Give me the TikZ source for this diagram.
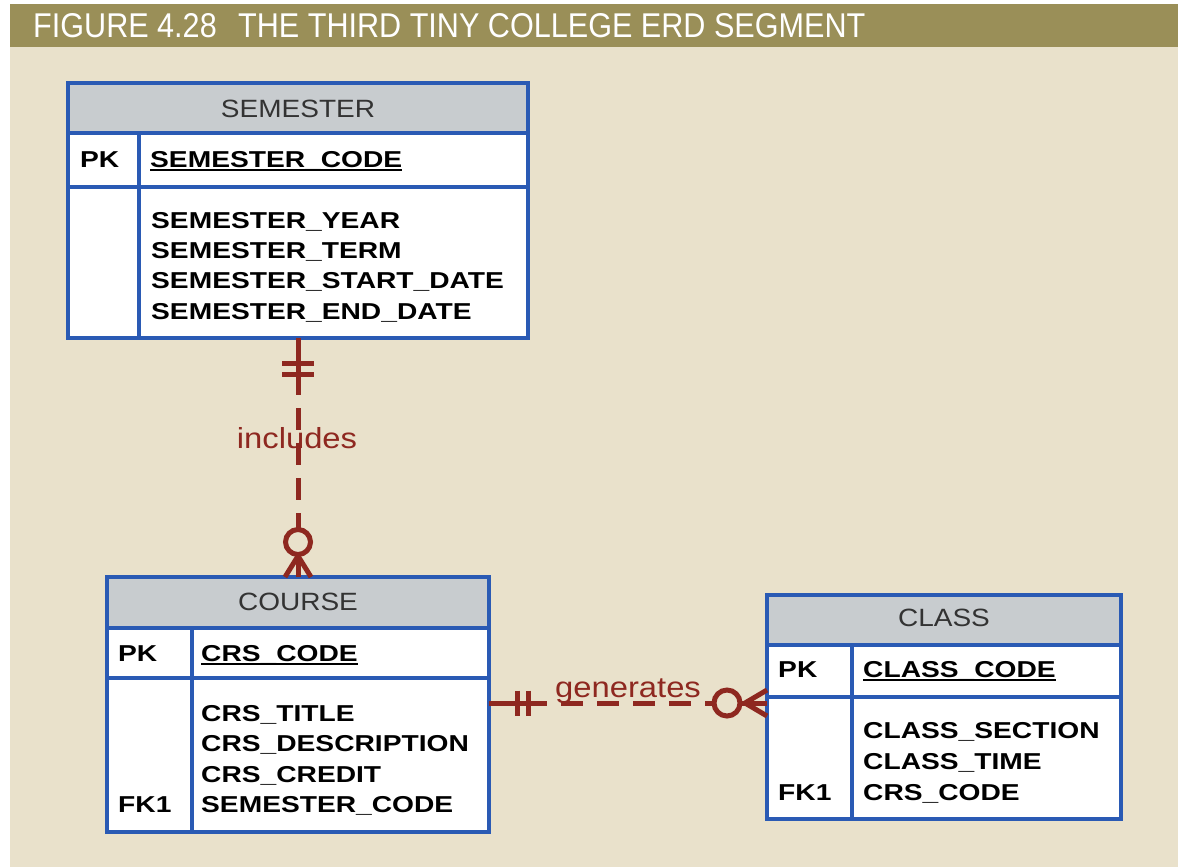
\documentclass[tikz,border=0pt]{standalone}
\usepackage{fontspec}
\setmainfont{Liberation Sans}
\usetikzlibrary{calc}
\definecolor{barcol}{HTML}{9A8F58}
\definecolor{bgcol}{HTML}{E9E1CB}
\definecolor{hdrcol}{HTML}{C8CCCF}
\definecolor{ebl}{HTML}{2A5AB4}
\definecolor{relcol}{HTML}{8E2820}
\definecolor{htxt}{HTML}{333333}
\newcommand{\attr}[1]{\scalebox{1.225}[1]{\fontsize{23}{23}\selectfont\bfseries #1}}
\newcommand{\hdrtxt}[1]{\scalebox{1.12}[1]{\fontsize{25}{25}\selectfont #1}}
\newcommand{\reltxt}[1]{\scalebox{1.13}[1]{\fontsize{29}{29}\selectfont #1}}
\begin{document}
\begin{tikzpicture}[x=1pt,y=-1pt,
  entitybox/.style={draw=none,fill=white,inner sep=0pt,outer sep=0pt,anchor=north west},
  eline/.style={draw=ebl,line width=3.5pt},
  att/.style={anchor=base west,inner sep=0pt,text=black},
  hdr/.style={anchor=base,inner sep=0pt,text=htxt},
  conn/.style={draw=relcol,line width=5pt},
  dashconn/.style={conn,dash pattern=on 22pt off 13pt},
  rlabel/.style={anchor=base,inner sep=0pt,text=relcol},
  uline/.style={draw=black,line width=2pt}]
\useasboundingbox (0,0) rectangle (1182,867);
\fill[white] (0,0) rectangle (1182,867);
\fill[bgcol] (10,47) rectangle (1178,867);
\fill[barcol] (10,4) rectangle (1178,47);
\node[anchor=base west,inner sep=0pt,text=white] (title) at (33,38)
  {\resizebox{832pt}{24pt}{FIGURE 4.28\hspace{0.7em}THE THIRD TINY COLLEGE ERD SEGMENT}};

% ---------- SEMESTER ----------
\node[entitybox,minimum width=460pt,minimum height=255pt] (semester) at (68,83) {};
\fill[hdrcol] (semester.north west) rectangle ($(semester.north east)+(0,50)$);
\draw[eline] ($(semester.north west)+(0,50)$) -- ($(semester.north east)+(0,50)$);
\draw[eline] ($(semester.north west)+(0,104)$) -- ($(semester.north east)+(0,104)$);
\draw[eline] ($(semester.north west)+(71,50)$) -- ($(semester.south west)+(71,0)$);
\draw[eline] (semester.north west) rectangle (semester.south east);
\node[hdr] (semhdr) at (298,117) {\hdrtxt{SEMESTER}};
\node[att] (sempk) at (80,167) {\attr{PK}};
\node[att] (semcode) at (150,167) {\attr{SEMESTER\_CODE}};
\draw[uline] ($(semcode.base west)+(0,2.5)$) -- ($(semcode.base east)+(0,2.5)$);
\node[att] (semyear) at (151,228.5) {\attr{SEMESTER\_YEAR}};
\node[att] (semterm) at (151,258.7) {\attr{SEMESTER\_TERM}};
\node[att] (semstart) at (151,288.9) {\attr{SEMESTER\_START\_DATE}};
\node[att] (semend) at (151,319) {\attr{SEMESTER\_END\_DATE}};

% ---------- COURSE ----------
\node[entitybox,minimum width=382pt,minimum height=255pt] (course) at (107,577) {};
\fill[hdrcol] (course.north west) rectangle ($(course.north east)+(0,51)$);
\draw[eline] ($(course.north west)+(0,51)$) -- ($(course.north east)+(0,51)$);
\draw[eline] ($(course.north west)+(0,101)$) -- ($(course.north east)+(0,101)$);
\draw[eline] ($(course.north west)+(85,51)$) -- ($(course.south west)+(85,0)$);
\draw[eline] (course.north west) rectangle (course.south east);
\node[hdr] (crshdr) at (298,610) {\hdrtxt{COURSE}};
\node[att] (crspk) at (118,661) {\attr{PK}};
\node[att] (crscode) at (201,661) {\attr{CRS\_CODE}};
\draw[uline] ($(crscode.base west)+(0,2.5)$) -- ($(crscode.base east)+(0,2.5)$);
\node[att] (crstitle) at (201,721) {\attr{CRS\_TITLE}};
\node[att] (crsdesc) at (201,751.5) {\attr{CRS\_DESCRIPTION}};
\node[att] (crscred) at (201,782) {\attr{CRS\_CREDIT}};
\node[att] (crssem) at (201,812.5) {\attr{SEMESTER\_CODE}};
\node[att] (crsfk) at (118,812.5) {\attr{FK1}};

% ---------- CLASS ----------
\node[entitybox,minimum width=354pt,minimum height=224pt] (class) at (767,595) {};
\fill[hdrcol] (class.north west) rectangle ($(class.north east)+(0,50)$);
\draw[eline] ($(class.north west)+(0,50)$) -- ($(class.north east)+(0,50)$);
\draw[eline] ($(class.north west)+(0,102)$) -- ($(class.north east)+(0,102)$);
\draw[eline] ($(class.north west)+(85,50)$) -- ($(class.south west)+(85,0)$);
\draw[eline] (class.north west) rectangle (class.south east);
\node[hdr] (clshdr) at (944,626) {\hdrtxt{CLASS}};
\node[att] (clspk) at (778,677) {\attr{PK}};
\node[att] (clscode) at (863,677) {\attr{CLASS\_CODE}};
\draw[uline] ($(clscode.base west)+(0,2.5)$) -- ($(clscode.base east)+(0,2.5)$);
\node[att] (clssec) at (863,738) {\attr{CLASS\_SECTION}};
\node[att] (clstime) at (863,769) {\attr{CLASS\_TIME}};
\node[att] (clscrs) at (863,800) {\attr{CRS\_CODE}};
\node[att] (clsfk) at (778,800) {\attr{FK1}};

% ---------- includes (SEMESTER 1 -- 0..N COURSE) ----------
\draw[dashconn] (semester.south) -- (course.north);
\draw[conn] (semester.south) -- ($(semester.south)+(0,54)$);
\draw[conn] ($(semester.south)+(-16,25)$) -- ++(32,0);
\draw[conn] ($(semester.south)+(-16,36)$) -- ++(32,0);
\draw[conn,fill=bgcol] ($(course.north)+(0,-35)$) circle (12.5);
\draw[conn] ($(course.north)+(0,-22.5)$) -- (course.north);
\draw[conn] ($(course.north)+(0,-21)$) -- ($(course.north)+(-13,0)$);
\draw[conn] ($(course.north)+(0,-21)$) -- ($(course.north)+(13,0)$);
\node[rlabel] (incl) at (297,448) {\reltxt{includes}};

% ---------- generates (COURSE 1 -- 0..N CLASS) ----------
\coordinate (g1) at (course.east |- 0,703);
\coordinate (g2) at (class.west |- 0,703);
\draw[conn,dash pattern=on 22pt off 14pt] (g1) -- (g2);
\draw[conn] (g1) -- ($(g1)+(58,0)$);
\draw[conn] ($(g1)+(28,-12.5)$) -- ++(0,25);
\draw[conn] ($(g1)+(39,-12.5)$) -- ++(0,25);
\draw[conn,fill=bgcol] ($(g2)+(-40,0)$) circle (13);
\draw[conn] ($(g2)+(-27,0)$) -- (g2);
\draw[conn] ($(g2)+(-22,0)$) -- ($(g2)+(0,-13)$);
\draw[conn] ($(g2)+(-22,0)$) -- ($(g2)+(0,13)$);
\node[rlabel] (gen) at (628,697) {\reltxt{generates}};
\end{tikzpicture}
\end{document}
